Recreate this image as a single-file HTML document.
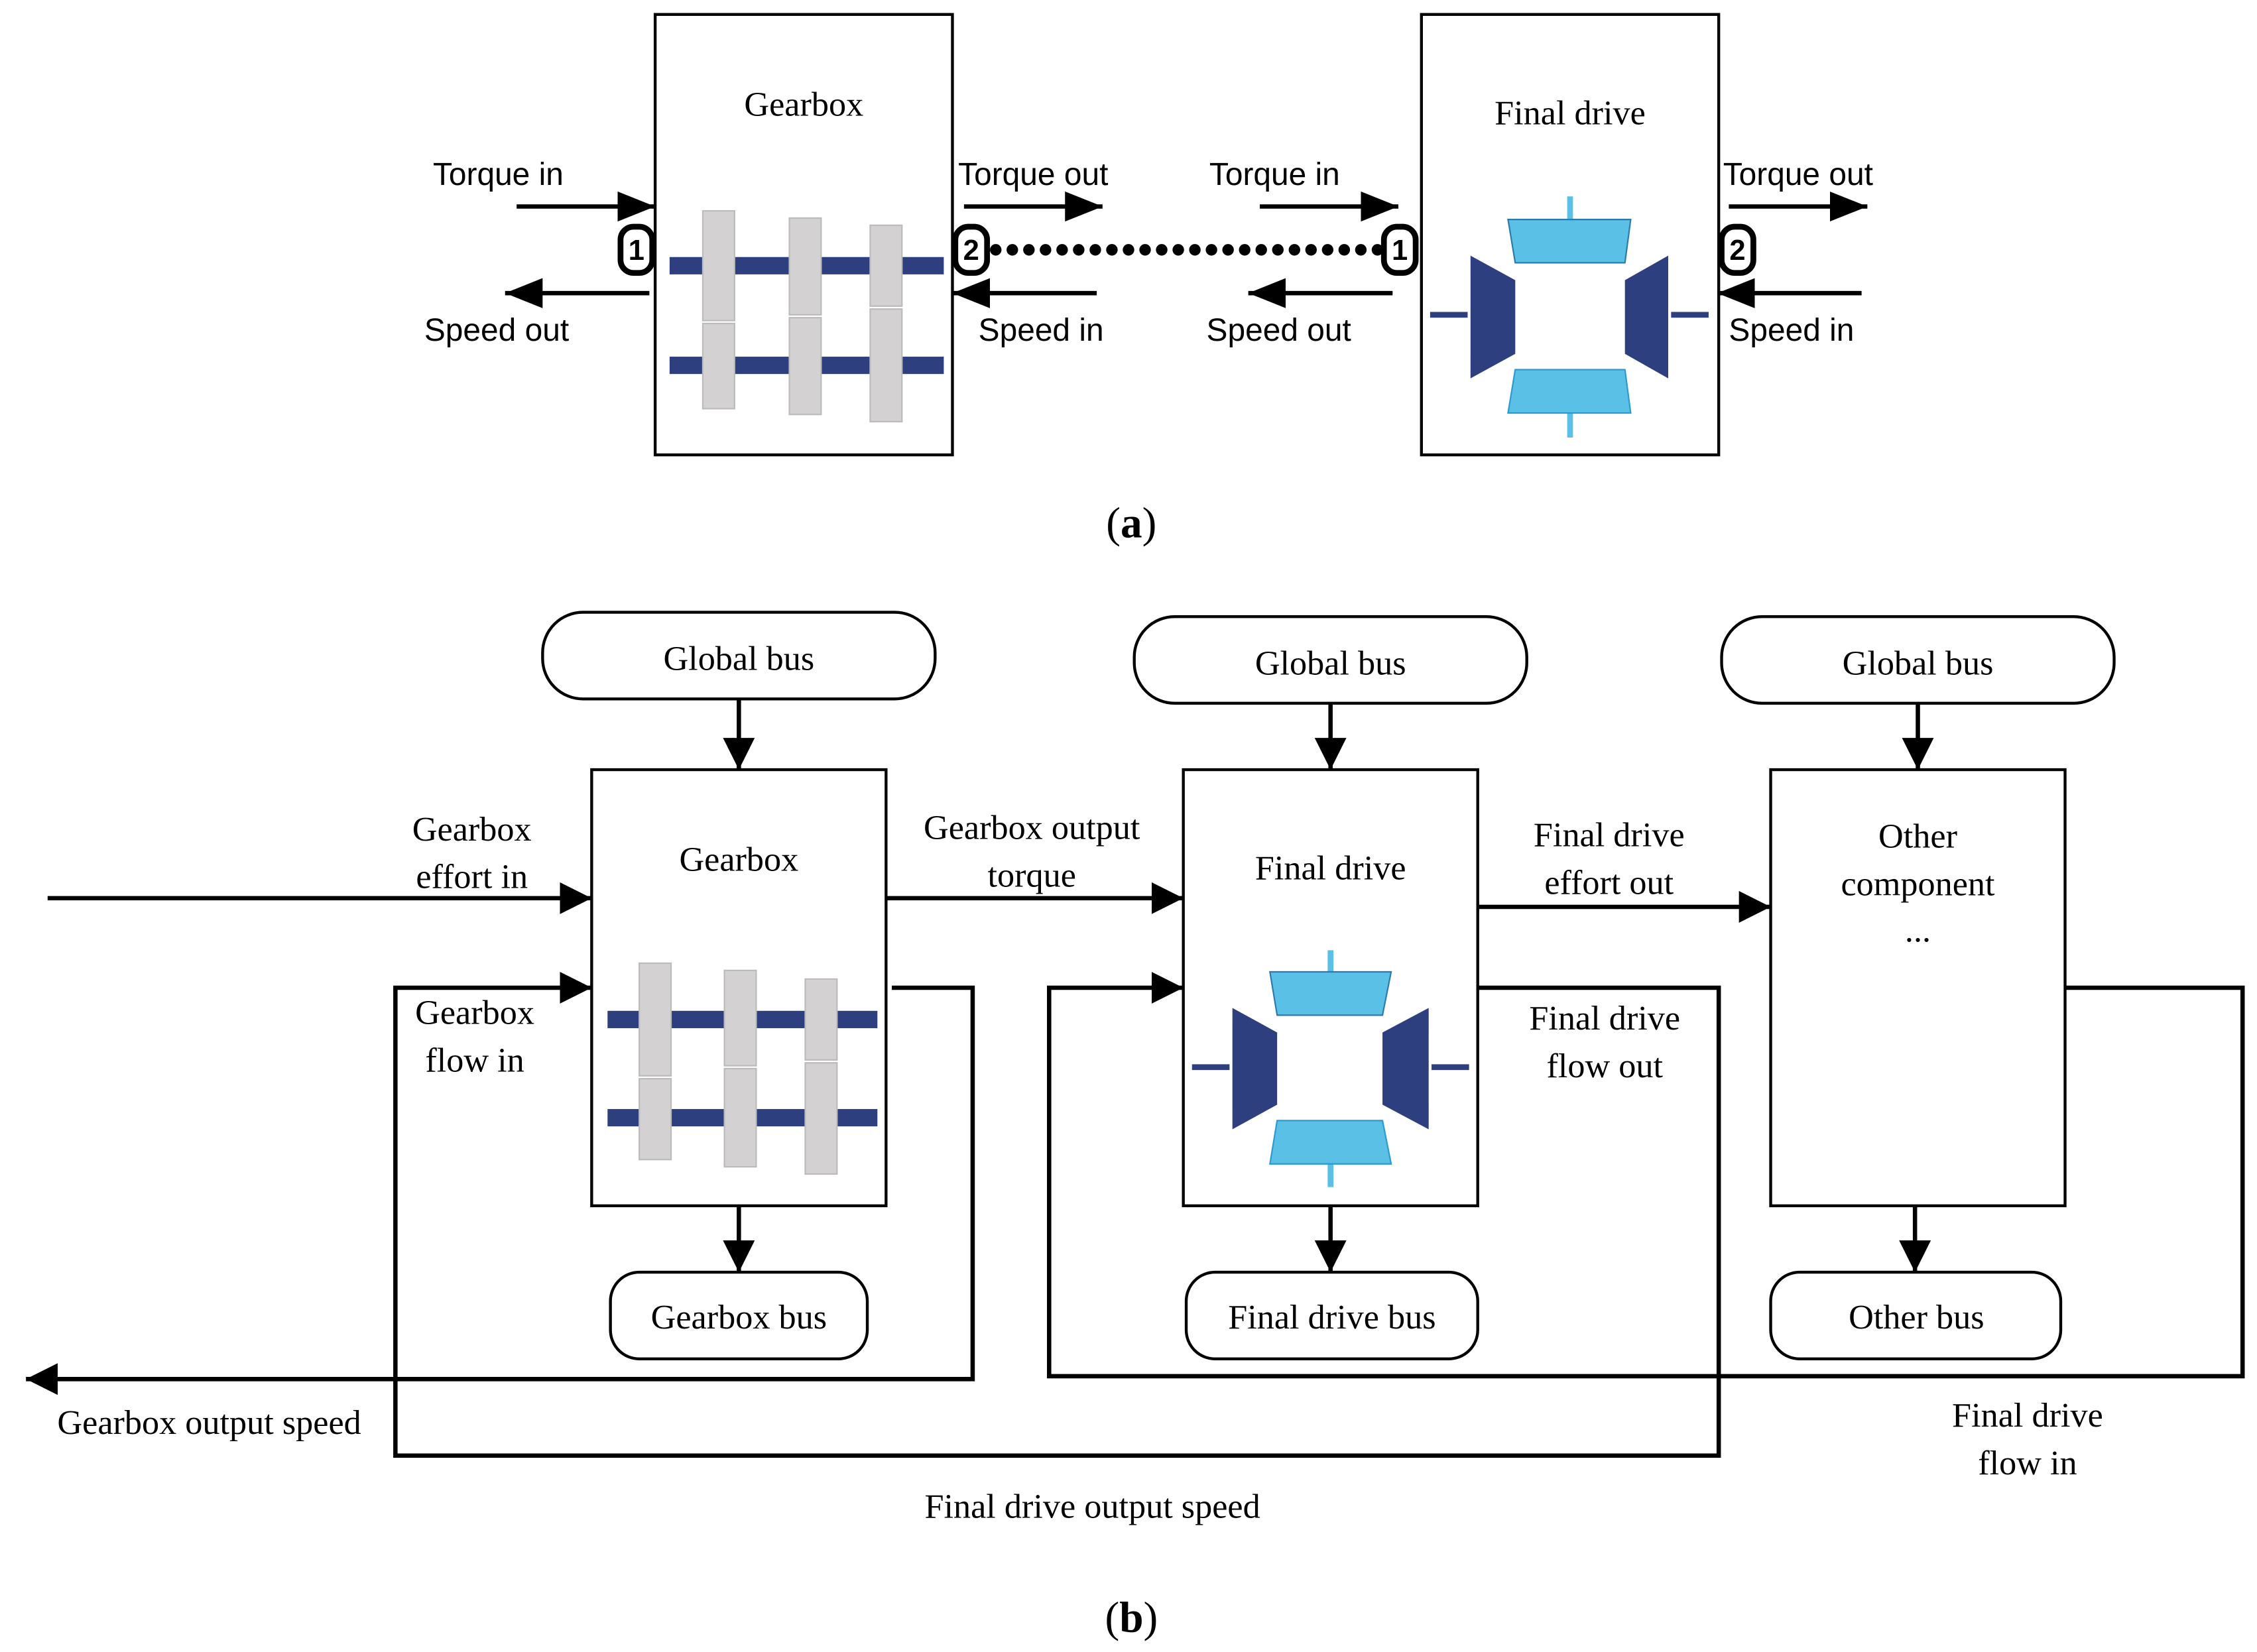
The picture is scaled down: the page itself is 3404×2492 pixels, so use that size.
<!DOCTYPE html>
<html><head><meta charset="utf-8"><style>html,body{margin:0;padding:0;background:#fff}svg{display:block}</style></head><body>
<svg width="3404" height="2492" viewBox="0 0 1564 1144" preserveAspectRatio="none" xmlns="http://www.w3.org/2000/svg">
<defs>
<marker id="b" viewBox="0 0 10 10" refX="10" refY="5" markerWidth="22" markerHeight="22" markerUnits="userSpaceOnUse" orient="auto"><path d="M0,0L10,5L0,10z"/></marker>
<marker id="big" viewBox="0 0 10 10" refX="10" refY="5" markerWidth="26" markerHeight="26" markerUnits="userSpaceOnUse" orient="auto"><path d="M0,1L10,5L0,9z"/></marker>
</defs>
<g font-family="Liberation Sans, DejaVu Sans, sans-serif" font-size="22">
<rect x="454" y="10" width="206" height="305" fill="none" stroke="#000" stroke-width="2"/>
<rect x="985" y="10" width="206" height="305" fill="none" stroke="#000" stroke-width="2"/>
<text font-family="Liberation Serif, serif" font-size="24" x="557" y="80" text-anchor="middle">Gearbox</text>
<text font-family="Liberation Serif, serif" font-size="24" x="1088" y="86" text-anchor="middle">Final drive</text>
<rect x="464" y="178" width="190" height="12" fill="#2e3f7f"/>
<rect x="464" y="247" width="190" height="12" fill="#2e3f7f"/>
<g fill="#d3d1d1" stroke="#bbb" stroke-width="1">
<rect x="487" y="146" width="22" height="76"/><rect x="487" y="224" width="22" height="59"/>
<rect x="547" y="151" width="22" height="67"/><rect x="547" y="220" width="22" height="67"/>
<rect x="603" y="156" width="22" height="56"/><rect x="603" y="214" width="22" height="78"/>
</g>
<g>
<line x1="1088" y1="136" x2="1088" y2="152" stroke="#5bc0e6" stroke-width="4"/>
<line x1="1088" y1="286" x2="1088" y2="303" stroke="#5bc0e6" stroke-width="4"/>
<path d="M1045,152H1130L1126,182H1050z" fill="#5bc0e6" stroke="#2a7ab0"/>
<path d="M1050,256H1126L1130,286H1045z" fill="#5bc0e6" stroke="#2a9ad0"/>
<path d="M1019,177L1050,194V245L1019,262z" fill="#2e3f7f"/>
<path d="M1156,177L1126,194V245L1156,262z" fill="#2e3f7f"/>
<rect x="991" y="216" width="26" height="4" fill="#2e3f7f"/>
<rect x="1158" y="216" width="26" height="4" fill="#2e3f7f"/>
</g>
<g stroke="#000" stroke-width="3" fill="none">
<line x1="358" y1="143" x2="454" y2="143" marker-end="url(#big)"/>
<line x1="450" y1="203" x2="350" y2="203" marker-end="url(#big)"/>
<line x1="668" y1="143" x2="764" y2="143" marker-end="url(#big)"/>
<line x1="760" y1="203" x2="660" y2="203" marker-end="url(#big)"/>
<line x1="873" y1="143" x2="969" y2="143" marker-end="url(#big)"/>
<line x1="965" y1="203" x2="865" y2="203" marker-end="url(#big)"/>
<line x1="1198" y1="143" x2="1294" y2="143" marker-end="url(#big)"/>
<line x1="1290" y1="203" x2="1190" y2="203" marker-end="url(#big)"/>
<line x1="690" y1="173" x2="958" y2="173" stroke-width="8" stroke-dasharray="0,11.5" stroke-linecap="round"/>
</g>
<g stroke="#000" stroke-width="4" fill="#fff">
<rect x="430" y="157" width="22" height="32" rx="9"/>
<rect x="662" y="157" width="22" height="32" rx="9"/>
<rect x="959" y="157" width="22" height="32" rx="9"/>
<rect x="1193" y="157" width="22" height="32" rx="9"/>
</g>
<g font-size="20" text-anchor="middle" font-weight="bold">
<text x="441" y="180">1</text><text x="673" y="180">2</text><text x="970" y="180">1</text><text x="1204" y="180">2</text>
</g>
<text x="300" y="128">Torque in</text>
<text x="294" y="236">Speed out</text>
<text x="664" y="128">Torque out</text>
<text x="678" y="236">Speed in</text>
<text x="838" y="128">Torque in</text>
<text x="836" y="236">Speed out</text>
<text x="1194" y="128">Torque out</text>
<text x="1198" y="236">Speed in</text>
</g>
<g font-family="Liberation Serif, serif" font-size="24">
<text x="784" y="372" text-anchor="middle" font-size="30">(<tspan font-weight="bold">a</tspan>)</text>
<text x="784" y="1130" text-anchor="middle" font-size="30">(<tspan font-weight="bold">b</tspan>)</text>
<g fill="none" stroke="#000" stroke-width="2">
<rect x="376" y="424" width="272" height="60" rx="28"/>
<rect x="786" y="427" width="272" height="60" rx="28"/>
<rect x="1193" y="427" width="272" height="60" rx="28"/>
<rect x="410" y="533" width="204" height="302"/>
<rect x="820" y="533" width="204" height="302"/>
<rect x="1227" y="533" width="204" height="302"/>
<rect x="423" y="881" width="178" height="60" rx="20"/>
<rect x="822" y="881" width="202" height="60" rx="20"/>
<rect x="1227" y="881" width="201" height="60" rx="20"/>
</g>
<g stroke="#000" stroke-width="3" fill="none">
<line x1="512" y1="484" x2="512" y2="533" marker-end="url(#b)"/>
<line x1="922" y1="487" x2="922" y2="533" marker-end="url(#b)"/>
<line x1="1329" y1="487" x2="1329" y2="533" marker-end="url(#b)"/>
<line x1="512" y1="835" x2="512" y2="881" marker-end="url(#b)"/>
<line x1="922" y1="835" x2="922" y2="881" marker-end="url(#b)"/>
<line x1="1327" y1="835" x2="1327" y2="881" marker-end="url(#b)"/>
<line x1="33" y1="622" x2="410" y2="622" marker-end="url(#b)"/>
<line x1="614" y1="622" x2="820" y2="622" marker-end="url(#b)"/>
<line x1="1024" y1="628" x2="1227" y2="628" marker-end="url(#b)"/>
<polyline points="618,684 674,684 674,955 18,955" marker-end="url(#b)"/>
<polyline points="1024,684 1191,684 1191,1008 274,1008 274,684 410,684" marker-end="url(#b)"/>
<polyline points="1431,684 1554,684 1554,953 727,953 727,684 820,684" marker-end="url(#b)"/>
</g>
<rect x="421" y="700" width="187" height="12" fill="#2e3f7f"/>
<rect x="421" y="768" width="187" height="12" fill="#2e3f7f"/>
<g fill="#d3d1d1" stroke="#bbb" stroke-width="1">
<rect x="443" y="667" width="22" height="78"/><rect x="443" y="747" width="22" height="56"/>
<rect x="502" y="672" width="22" height="66"/><rect x="502" y="740" width="22" height="68"/>
<rect x="558" y="678" width="22" height="56"/><rect x="558" y="736" width="22" height="77"/>
</g>
<line x1="922" y1="658" x2="922" y2="673" stroke="#5bc0e6" stroke-width="4"/>
<line x1="922" y1="806" x2="922" y2="822" stroke="#5bc0e6" stroke-width="4"/>
<path d="M880,673H964L958,703H885z" fill="#5bc0e6" stroke="#2a7ab0"/>
<path d="M885,776H958L964,806H880z" fill="#5bc0e6" stroke="#2a9ad0"/>
<path d="M854,698L885,715V765L854,782z" fill="#2e3f7f"/>
<path d="M990,698L958,715V765L990,782z" fill="#2e3f7f"/>
<rect x="826" y="737" width="26" height="4" fill="#2e3f7f"/>
<rect x="992" y="737" width="26" height="4" fill="#2e3f7f"/>
<g text-anchor="middle">
<text x="512" y="464">Global bus</text>
<text x="922" y="467">Global bus</text>
<text x="1329" y="467">Global bus</text>
<text x="512" y="603">Gearbox</text>
<text x="922" y="609">Final drive</text>
<text x="1329" y="587">Other</text>
<text x="1329" y="620">component</text>
<text x="1329" y="652">...</text>
<text x="512" y="920">Gearbox bus</text>
<text x="923" y="920">Final drive bus</text>
<text x="1328" y="920">Other  bus</text>
<text x="327" y="582">Gearbox</text>
<text x="327" y="615">effort in</text>
<text x="715" y="581">Gearbox output</text>
<text x="715" y="614">torque</text>
<text x="1115" y="586">Final drive</text>
<text x="1115" y="619">effort out</text>
<text x="329" y="709">Gearbox</text>
<text x="329" y="742">flow in</text>
<text x="1112" y="713">Final drive</text>
<text x="1112" y="746">flow out</text>
<text x="145" y="993">Gearbox output speed</text>
<text x="757" y="1051">Final drive output speed</text>
<text x="1405" y="988">Final drive</text>
<text x="1405" y="1021">flow in</text>
</g>
</g>
</svg>
</body></html>
